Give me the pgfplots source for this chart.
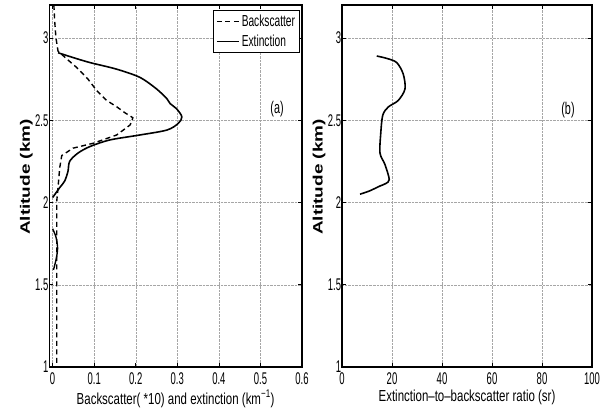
\documentclass[border=0pt]{standalone}
\usepackage{fontspec}
\usepackage{graphicx}
\setmainfont{Liberation Sans}
\newfontfamily\tickfont[FakeStretch=0.56]{Liberation Sans}
\newfontfamily\labfont[FakeStretch=0.72]{Liberation Sans}
\newfontfamily\legfont[FakeStretch=0.64]{Liberation Sans}
\usepackage{pgfplots}
\pgfplotsset{compat=1.18}

\pgfplotsset{
  matlab/.style={
    scale only axis, height=362bp,
    ymin=1, ymax=3.2, ytick={1,1.5,2,2.5,3},
    tick align=inside, major tick length=4bp,
    grid=major, major grid style={densely dotted, gray!70, line width=0.4pt},
    axis line style={line width=1.2pt},
    tick style={black, line width=0.6pt},
    /pgf/number format/assume math mode=true,
    ticklabel style={font=\tickfont\fontsize{17}{17}\selectfont},
    xticklabel style={yshift=-2.5bp},
    yticklabel style={xshift=2.6bp},
    every axis y label/.style={at={(rel axis cs:0,0.5)}, xshift=-23bp, yshift=9bp, rotate=90,
      anchor=center, font=\bfseries\fontsize{19}{19}\selectfont},
    every axis x label/.style={at={(rel axis cs:0.5,0)}, yshift=-23bp, anchor=north,
      inner sep=0pt, font=\labfont\fontsize{16}{16}\selectfont},
  }
}

\begin{document}
\begin{tikzpicture}
\useasboundingbox (0,0) rectangle (614bp,416bp);

% (a) backscatter and extinction
\begin{axis}[matlab, at={(49.3bp,49bp)}, anchor=south west, width=252.7bp,
  xmin=-0.008, xmax=0.6, xtick={0,0.1,0.2,0.3,0.4,0.5,0.6},
  xlabel={Backscatter( *10) and extinction (km\textsuperscript{−1})},
  ylabel={\scalebox{1}[0.72]{Altitude (km)}},
  legend style={at={(rel axis cs:1,1)}, anchor=north east, xshift=-2bp, yshift=-5bp,
    draw=black, line width=0.9pt, font=\legfont\fontsize{16}{16}\selectfont,
    inner sep=2.5bp, row sep=3bp},
  legend cell align=left,
  legend image code/.code={\draw[#1] (0bp,0bp) -- (22bp,0bp);}]
\addplot[black, line width=1.4pt, dash pattern=on 5bp off 3.5bp] coordinates {
(0.003,3.2) (0.005,3.1) (0.008,3.0) (0.013,2.92) (0.035,2.87) (0.058,2.82)
(0.085,2.75) (0.106,2.68) (0.13,2.62) (0.155,2.58) (0.174,2.545) (0.193,2.515)
(0.19,2.49) (0.186,2.47) (0.154,2.41) (0.098,2.36) (0.049,2.33) (0.022,2.285)
(0.017,2.21) (0.013,2.09) (0.01,2.01) (0.01,1.5) (0.01,1.0)};
\addlegendentry{Backscatter}
\addplot[black, line width=1.6pt, smooth] coordinates {
(0.013,2.91) (0.05,2.88) (0.09,2.85) (0.154,2.81) (0.21,2.76) (0.25,2.69)
(0.275,2.63) (0.283,2.60) (0.298,2.57) (0.311,2.52) (0.302,2.48) (0.275,2.44)
(0.21,2.41) (0.138,2.38) (0.09,2.34) (0.061,2.30) (0.041,2.25) (0.037,2.19)
(0.029,2.13) (0.017,2.09) (0.0,2.03)};
\addlegendentry{Extinction}
\addplot[black, line width=1.4pt, smooth, forget plot] coordinates {
(0.0,1.84) (0.008,1.79) (0.012,1.72) (0.008,1.65) (0.002,1.59)};
\node[font=\legfont\fontsize{17}{17}\selectfont] at (axis cs:0.54,2.57) {(a)};
\end{axis}

% (b) extinction-to-backscatter ratio
\begin{axis}[matlab, at={(342bp,49bp)}, anchor=south west, width=250bp,
  xmin=0, xmax=100, xtick={0,20,40,60,80,100},
  xlabel={Extinction–to–backscatter ratio (sr)},
  ylabel={\scalebox{1}[0.72]{Altitude (km)}}]
\addplot[black, line width=1.6pt, smooth] coordinates {
(13.9,2.89) (18,2.875) (21.9,2.85) (24.5,2.78) (25.2,2.69) (22.5,2.62)
(18.5,2.58) (16.3,2.53) (15.5,2.42) (15.2,2.30) (17.2,2.23) (18.9,2.14)
(17.5,2.115) (15.2,2.10) (11,2.07) (7.2,2.05)};
\node[font=\legfont\fontsize{17}{17}\selectfont] at (axis cs:90.4,2.56) {(b)};
\end{axis}
\end{tikzpicture}
\end{document}
